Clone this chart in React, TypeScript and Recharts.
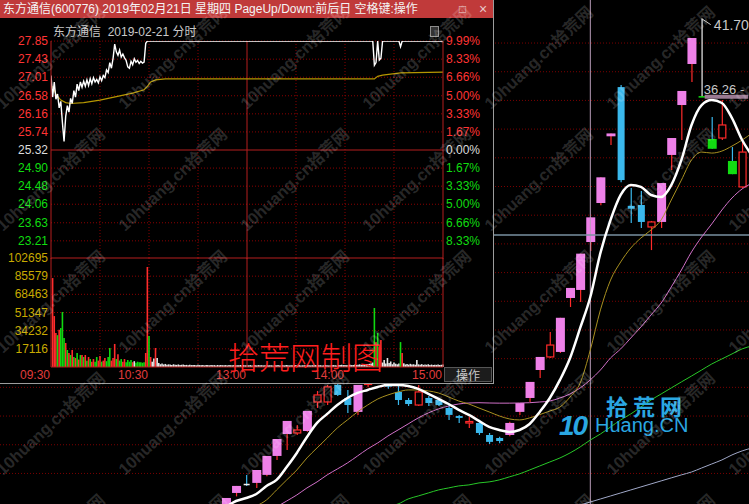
import React from "react";
import {
  Bar,
  CartesianGrid,
  Cell,
  ComposedChart,
  Line,
  ReferenceDot,
  ReferenceLine,
  XAxis,
  YAxis,
} from "recharts";

// ---------- daily candles (index 36 = 2019-02-21) ----------
const kOpen = [
  7.6, 8.64, 9.28, 9.34, 9.9, 11.22, 12.75, 12.82, 12.96, 14.98,
  14.98, 16.17, 15.26, 14.29, 16.2, 17.2, 16.8, 15.68, 15.12, 14.77,
  15.26, 15.12, 14.56, 14.0, 13.58, 13.52, 12.68, 12.47, 12.68, 14.29,
  15.26, 17.21, 18.12, 18.47, 22.23, 22.79, 26.13, 28.85, 33.5, 36.93,
  28.65, 28.71, 27.18, 27.53, 32.2, 35.68, 38.54, 36.3, 33.31, 33.38,
  31.78, 29.97,
];
const kClose = [
  8.29, 9.13, 9.27, 10.24, 11.22, 12.4, 13.66, 13.03, 14.36, 15.47,
  16.03, 15.47, 14.77, 16.17, 17.1, 16.5, 16.05, 15.12, 14.84, 15.68,
  14.91, 14.77, 14.08, 13.87, 13.62, 12.82, 12.2, 12.26, 13.52, 14.91,
  16.38, 18.12, 18.95, 20.85, 22.93, 25.32, 27.85, 30.64, 33.7, 30.45,
  28.45, 27.53, 27.53, 30.24, 33.38, 36.66, 40.35, 36.26, 32.63, 34.29,
  30.86, 32.4,
];
const kHigh = [
  8.29, 9.13, 9.9, 10.24, 11.22, 12.4, 13.66, 13.38, 14.36, 15.75,
  16.17, 16.3, 15.82, 16.17, 17.6, 17.5, 17.0, 16.17, 15.26, 16.17,
  15.4, 15.2, 14.77, 14.08, 13.94, 13.73, 12.82, 12.55, 13.6, 14.91,
  16.38, 18.12, 19.86, 20.85, 22.93, 25.32, 27.85, 30.64, 33.7, 37.07,
  29.9, 29.69, 27.6, 30.24, 33.38, 36.66, 40.35, 41.7, 34.84, 36.03,
  32.75, 33.1,
];
const kLow = [
  7.5, 8.4, 9.13, 8.99, 9.8, 10.94, 11.64, 12.68, 12.9, 14.56,
  14.77, 15.4, 14.22, 14.08, 16.0, 16.3, 15.9, 14.77, 14.7, 14.7,
  14.7, 14.7, 13.73, 13.52, 13.17, 12.68, 12.05, 12.1, 12.6, 14.08,
  14.98, 16.66, 18.05, 18.4, 21.6, 21.95, 25.51, 28.7, 32.9, 30.3,
  27.45, 27.11, 25.57, 27.11, 31.15, 33.24, 37.28, 36.26, 32.63, 33.24,
  30.86, 29.9,
];
const kMark = [
  "limit", "limit", "doji", "limit", "limit", "limit", "limit", "up", "limit", "up",
  "up", "down", "down", "limit", "up", "down", "down", "down", "down", "up",
  "down", "down", "down", "down", "up", "down", "down", "down", "limit", "limit",
  "limit", "limit", "up", "limit", "limit", "limit", "limit", "limit", "limit", "down",
  "down", "down", "up", "limit", "limit", "limit", "limit", "flat", "drop", "up",
  "drop", "up",
];

const ma5 = [
  7.67, 8.08, 8.29, 8.57, 9.13, 9.55, 10.45, 11.43, 12.54, 13.52,
  14.15, 14.77, 15.26, 15.61, 15.82, 16.03, 16.17, 16.17, 16.1, 15.89,
  15.54, 15.19, 14.84, 14.43, 14.08, 13.66, 13.24, 13.03, 12.89, 13.03,
  13.45, 14.29, 15.26, 16.52, 18.05, 20.14, 22.3, 25.37, 27.67, 29.41,
  30.1, 29.97, 29.41, 29.27, 30.1, 31.85, 34.29, 35.68, 36.03, 35.82,
  34.77, 33.24, 32.13,
];
const ma10 = [
  null, null, null, 7.74, 8.15, 8.85, 9.55, 10.24, 11.08, 11.78,
  12.47, 13.17, 13.73, 14.29, 14.77, 15.19, 15.47, 15.68, 15.82, 15.82,
  15.75, 15.61, 15.33, 15.05, 14.84, 14.56, 14.29, 14.01, 13.8, 13.73,
  13.87, 14.1, 14.35, 14.63, 15.33, 16.31, 18.61, 21.4, 23.48, 24.74,
  25.71, 26.41, 26.97, 27.67, 29.06, 30.45, 31.85, 32.4, 32.33, 32.47,
  32.82, 33.24, 33.73,
];
const ma20 = [
  null, null, null, null, null, 7.67, 8.08, 8.5, 8.99, 9.41,
  9.9, 10.31, 10.73, 11.22, 11.71, 12.13, 12.61, 13.03, 13.45, 13.87,
  14.22, 14.5, 14.7, 14.84, 14.91, 14.93, 14.91, 14.9, 14.9, 14.91,
  14.93, 14.98, 15.05, 15.26, 15.54, 15.96, 16.52, 17.21, 18.05, 18.68,
  19.44, 20.21, 21.05, 21.88, 23.0, 24.18, 25.44, 26.48, 27.39, 28.36,
  29.2, 29.83, 30.24,
];
const ma60 = [
  null, null, null, null, null, null, null, null, null, null,
  null, null, null, null, null, null, 7.73, 7.87, 8.22, 8.43,
  8.64, 8.85, 8.99, 9.13, 9.2, 9.34, 9.41, 9.55, 9.76, 9.97,
  10.24, 10.52, 10.8, 11.08, 11.43, 11.85, 12.33, 12.75, 13.24, 13.73,
  14.15, 14.63, 15.12, 15.54, 15.96, 16.38, 16.79, 17.21, 17.63, 17.98,
  18.33, 18.68, 18.89,
];
const ma120 = [
  null, null, null, null, null, null, null, null, null, null,
  null, null, null, null, null, null, null, null, null, null,
  null, null, null, null, null, null, null, null, null, null,
  null, null, null, null, null, 7.8, 8.01, 8.22, 8.43, 8.64,
  8.85, 9.06, 9.27, 9.48, 9.69, 9.9, 10.1, 10.38, 10.66, 10.94,
  11.29, 11.57, 11.78,
];
const kGridPrices = [8, 10, 12, 14, 16, 18, 20, 22, 24, 26, 28, 30, 32, 34, 36, 38, 40];
const crossIndex = 36;
const crossPrice = 26.62;
const highMark = 41.7;
const lowMark = 36.26;

// ---------- intraday 2019-02-21 ----------
const basePrice = 25.32;
const priceTicks = [27.85, 27.43, 27.01, 26.58, 26.16, 25.74, 25.32, 24.9, 24.48, 24.06, 23.63, 23.21];
const pctLabels = ["9.99%", "8.33%", "6.66%", "5.00%", "3.33%", "1.67%", "0.00%", "1.67%", "3.33%", "5.00%", "6.66%", "8.33%"];
const volTicks = [102695, 85579, 68463, 51347, 34232, 17116];
const timeTicks = [0, 60, 120, 180, 240];
const timeLabels = ["09:30", "10:30", "13:00", "14:00", "15:00"];
const gridMinutes = [30, 60, 90, 150, 180, 210];

const priceMinute = [
  0, 1, 2, 3, 4, 5, 6, 7, 8, 9, 10, 11, 12, 13, 14, 15, 16, 17, 18, 19,
  20, 21, 22, 23, 24, 25, 26, 27, 28, 29, 30, 31, 32, 33, 34, 35, 36, 37, 38, 39,
  40, 41, 42, 43, 44, 45, 46, 47, 48, 49, 50, 51, 52, 53, 54, 55, 56, 57, 58, 59,
  197, 198, 199, 200, 201, 202, 203, 213, 214, 215, 240,
];
const priceValue = [
  27.05, 26.55, 26.9, 26.5, 26.62, 26.3, 26.45, 25.95, 25.52, 26.1,
  26.35, 26.2, 26.52, 26.4, 26.7, 26.55, 26.85, 26.7, 26.9, 26.78,
  26.92, 26.8, 26.95, 26.82, 26.98, 26.86, 27.0, 26.9, 26.96, 26.88,
  27.02, 26.93, 27.05, 27.0, 27.18, 27.12, 27.35, 27.22, 27.45, 27.78,
  27.6, 27.52, 27.64, 27.48, 27.55, 27.46, 27.4, 27.25, 27.22, 27.38,
  27.3, 27.44, 27.36, 27.4, 27.33, 27.38, 27.34, 27.36, 27.8, 27.85,
  27.85, 27.29, 27.35, 27.85, 27.41, 27.45, 27.85, 27.85, 27.72, 27.85, 27.85,
];
const avgMinute = [1, 3, 6, 9, 12, 20, 30, 40, 50, 57, 59, 61, 64, 70, 198, 200, 203, 214, 240];
const avgValue = [26.8, 26.62, 26.48, 26.42, 26.4, 26.42, 26.48, 26.56, 26.64, 26.72, 26.8, 26.9, 26.95, 26.97, 26.97, 27.03, 27.06, 27.11, 27.13];

const volumes = [
  0,
  83800, 48000, 32000, 30000, 35000, 36700, 51800, 27300, 22600, 16000,
  13200, 11300, 16000, 9400, 8500, 13200, 7000, 11300, 11300, 9400,
  11300, 6000, 9400, 7500, 5000, 7500, 5000, 9400, 6000, 10300,
  5000, 6000, 8500, 5500, 9400, 17900, 6000, 8500, 21700, 7500,
  12000, 6000, 7500, 5000, 7500, 4500, 6500, 5000, 6500, 4500,
  5500, 4000, 5000, 4500, 4500, 4000, 4500, 13200, 94200, 29200,
  9400, 5000, 8000, 17900, 8500,
  3800, 2600, 3200, 2400, 2900, 2100, 2500, 2300, 1900, 2600, 2200, 2000, 2400, 1800, 2100, 2300, 1900, 2000, 1700, 2200,
  1800, 2000, 1900, 1600, 2100, 1800, 1700, 2000, 1500, 1900, 1800, 1600, 2000, 1700, 1800, 1500, 1900, 1600, 1800, 1700,
  1600, 1800, 1500, 1900, 1700, 1600, 1800, 1500, 1700, 1600, 1900, 1500, 1700, 1600,
  1700, 1600, 1800, 1500, 1700, 1600, 1500, 1800, 1600, 1700, 1500, 1600, 1800, 1500, 1700, 1600, 1500, 1700, 1600, 1800,
  1500, 1600, 1700, 1500, 1800, 1600, 1500, 1700, 1600, 1500, 1800, 1600, 1700, 1500, 1600, 1700, 1500, 1800, 1600, 1500,
  1700, 1600, 1800, 1500, 1600, 1700, 1500, 1600, 1800, 1700, 1500, 1600, 1700, 1800, 1600, 1500, 1700, 1900, 2100, 1800,
  2000, 1700, 1900, 2200, 1800, 2000, 2300, 1900, 2100, 2500, 2000, 2400, 2200, 2800, 2500, 3000, 3400, 4200,
  55600, 23500, 32000, 18800, 25400, 4200, 6500, 3200, 8500, 3800,
  5200, 2600, 4300, 3100, 2500, 3200, 23500, 13200, 3500, 2400,
  2800, 2200, 3000, 2300, 2600, 2100, 6600, 2500, 2200, 2700,
  2000, 2400, 2100, 2600, 2000, 2300, 1900, 2200, 2000, 2400,
  1900, 2100, 2300,
];
// r = up tick, g = down tick, w = unchanged
const volSide = (
  "w " +
  "r r r g r g g g r g " +
  "r g r g r g r g r g " +
  "r g r g r r g g r r " +
  "g r r g g g r r r g " +
  "r g g r r g g g g r " +
  "w g g g g g g r r g " +
  "r w w r w " +
  "w ".repeat(132) +
  "g r g r r w w w w w " +
  "w w w w w w g r w w " +
  "w w w w w w w w w w " +
  "w w w w w w w w w w " +
  "w w w"
).trim().split(" ");

// ---------- tables ----------
const kData = ma5.map((v, i) => ({
  i,
  o: kOpen[i] ?? null,
  c: kClose[i] ?? null,
  h: kHigh[i] ?? null,
  l: kLow[i] ?? null,
  mark: kMark[i] ?? null,
  range: kLow[i] != null ? [kLow[i], kHigh[i]] : null,
  ma5: v,
  ma10: ma10[i],
  ma20: ma20[i],
  ma60: ma60[i],
  ma120: ma120[i],
}));

const minuteData = volumes.map((v, m) => {
  const pi = priceMinute.indexOf(m);
  const ai = avgMinute.indexOf(m);
  return {
    m,
    v,
    s: volSide[m],
    p: pi >= 0 ? priceValue[pi] : null,
    a: ai >= 0 ? avgValue[ai] : null,
  };
});

const FRAME = "#b41e1e";
const GRID = "#8a0000";
const FONT = '"Liberation Sans", Arial, "Noto Sans CJK SC", sans-serif';
const CJK = '"Noto Sans CJK SC", "Liberation Sans", sans-serif';

const candleStyle: Record<string, { fill: string; wick: string; w: number; stroke?: string }> = {
  limit: { fill: "#ee80e8", wick: "#ff2a2a", w: 9 },
  up: { fill: "#000000", stroke: "#ff2a2a", wick: "#ff2a2a", w: 7 },
  down: { fill: "#3ab8ec", wick: "#3ab8ec", w: 7 },
  drop: { fill: "#12dc12", wick: "#3ab8ec", w: 9 },
  doji: { fill: "#f0f0f0", wick: "#3ab8ec", w: 6 },
  flat: { fill: "#12dc12", wick: "#f0f0f0", w: 7 },
};

const sideColor: Record<string, string> = { r: "#ff2c2c", g: "#10d810", w: "#e6e6e6" };

function Candle(props: any) {
  const { x, y, width, height, payload } = props;
  if (!payload || payload.o == null) return null;
  const { o, c, h, l, mark } = payload;
  const s = candleStyle[mark];
  const top = Math.min(y, y + height);
  const k = h > l ? Math.abs(height) / (h - l) : 0;
  const py = (v: number) => top + (h - v) * k;
  const cx = x + width / 2;
  const bTop = py(Math.max(o, c));
  const bH = Math.max(py(Math.min(o, c)) - bTop, 1.5);
  return (
    <g>
      <line x1={cx} x2={cx} y1={py(h)} y2={py(l)} stroke={s.wick} strokeWidth={1.2} />
      <rect
        x={cx - s.w / 2}
        y={bTop}
        width={s.w}
        height={bH}
        fill={s.fill}
        stroke={s.stroke ?? "none"}
        strokeWidth={1.2}
      />
    </g>
  );
}

function priceColor(i: number) {
  if (i < 6) return "#ff3434";
  if (i === 6) return "#dcdcdc";
  return "#10dc10";
}

function DailyChart() {
  return (
    <ComposedChart width={749} height={504} data={kData} margin={{ top: 0, right: 0, bottom: 0, left: 0 }}>
      <XAxis type="number" dataKey="i" domain={[-22.33, 51.68]} hide allowDataOverflow />
      <YAxis domain={[7.87, 43]} ticks={kGridPrices} hide allowDataOverflow />
      <CartesianGrid horizontalValues={kGridPrices} vertical={false} stroke="#7a0000" strokeDasharray="1 2" />
      <ReferenceLine x={crossIndex} stroke="#b89cb8" />
      <ReferenceLine y={crossPrice} stroke="#7890a0" strokeWidth={1.5} />
      <Bar dataKey="range" barSize={9} isAnimationActive={false} shape={(p: any) => <Candle {...p} />} />
      <Line dataKey="ma120" stroke="#a0a8c8" strokeWidth={1} dot={false} type="monotone" isAnimationActive={false} />
      <Line dataKey="ma60" stroke="#28c828" strokeWidth={1} dot={false} type="monotone" isAnimationActive={false} />
      <Line dataKey="ma20" stroke="#d070c8" strokeWidth={1} dot={false} type="monotone" isAnimationActive={false} />
      <Line dataKey="ma10" stroke="#a89020" strokeWidth={1} dot={false} type="monotone" isAnimationActive={false} />
      <Line dataKey="ma5" stroke="#ffffff" strokeWidth={2.5} dot={false} type="monotone" isAnimationActive={false} />
      <ReferenceLine
        segment={[{ x: 47.3, y: lowMark }, { x: 51.6, y: lowMark }]}
        stroke="#9a7a92"
        strokeWidth={4}
        ifOverflow="visible"
      />
      <ReferenceLine
        segment={[{ x: 47, y: highMark }, { x: 47.9, y: 41.28 }]}
        stroke="#c8c8c8"
        ifOverflow="visible"
      />
      <ReferenceDot
        x={47.9}
        y={41.28}
        r={0.1}
        fill="none"
        stroke="none"
        ifOverflow="visible"
        label={{ value: highMark.toFixed(2), position: "right", offset: 3, fill: "#c8c8c8", fontSize: 14 }}
      />
      <ReferenceDot
        x={47.1}
        y={36.75}
        r={0.1}
        fill="none"
        stroke="none"
        ifOverflow="visible"
        label={{ value: lowMark.toFixed(2) + " -", position: "right", offset: 1, fill: "#c8c8c8", fontSize: 13 }}
      />
    </ComposedChart>
  );
}

function PriceChart() {
  return (
    <ComposedChart width={493} height={262} data={minuteData} margin={{ top: 41, right: 0, bottom: 3, left: 0 }}>
      <XAxis type="number" dataKey="m" domain={[0, 240]} ticks={gridMinutes} hide allowDataOverflow />
      <YAxis
        domain={[22.788, 27.852]}
        ticks={priceTicks}
        interval={0}
        width={51}
        tickSize={0}
        tickMargin={3}
        axisLine={{ stroke: FRAME }}
        tickLine={false}
        allowDataOverflow
        tick={(t: any) => (
          <text x={t.x} y={t.y} textAnchor="end" dominantBaseline="central" fontSize={12} fontFamily={FONT}
            fill={priceColor(priceTicks.indexOf(t.payload.value))}>
            {Number(t.payload.value).toFixed(2)}
          </text>
        )}
      />
      <YAxis
        yAxisId="q"
        orientation="right"
        domain={[22.788, 27.852]}
        ticks={priceTicks}
        interval={0}
        width={50}
        tickSize={0}
        tickMargin={3}
        axisLine={{ stroke: FRAME }}
        tickLine={false}
        allowDataOverflow
        tick={(t: any) => {
          const idx = priceTicks.indexOf(t.payload.value);
          return (
            <text x={t.x} y={t.y} textAnchor="start" dominantBaseline="central" fontSize={12} fontFamily={FONT}
              fill={priceColor(idx)}>
              {pctLabels[idx]}
            </text>
          );
        }}
      />
      <CartesianGrid
        horizontalValues={priceTicks.filter((v) => v !== basePrice)}
        verticalValues={gridMinutes}
        stroke={GRID}
        strokeDasharray="1 2"
      />
      <ReferenceLine y={basePrice} stroke={FRAME} />
      <ReferenceLine x={120} stroke={FRAME} />
      <Line dataKey="a" stroke="#b49600" strokeWidth={1.2} dot={false} connectNulls isAnimationActive={false} />
      <Line dataKey="p" stroke="#ffffff" strokeWidth={1.4} dot={false} connectNulls isAnimationActive={false} />
    </ComposedChart>
  );
}

function VolumeChart() {
  const volTick = (anchor: "start" | "end") => (t: any) => (
    <text x={t.x} y={t.y} textAnchor={anchor} dominantBaseline="central" fontSize={12} fontFamily={FONT} fill="#c8aa00">
      {t.payload.value}
    </text>
  );
  return (
    <ComposedChart width={493} height={133} data={minuteData} margin={{ top: 8, right: 0, bottom: 0, left: 0 }}>
      <XAxis
        type="number"
        dataKey="m"
        domain={[0, 240]}
        ticks={timeTicks}
        interval={0}
        height={16}
        tickSize={0}
        tickMargin={0}
        axisLine={{ stroke: FRAME }}
        tickLine={false}
        tick={(t: any) => (
          <text x={t.x - 1} y={t.y + 12} textAnchor="end" fontSize={12} fontFamily={FONT} fill="#e03c3c">
            {timeLabels[timeTicks.indexOf(t.payload.value)]}
          </text>
        )}
      />
      <YAxis domain={[0, 102695]} ticks={volTicks} interval={0} width={51} tickSize={0} tickMargin={3}
        axisLine={{ stroke: FRAME }} tickLine={false} tick={volTick("end")} />
      <YAxis yAxisId="w" orientation="right" domain={[0, 102695]} ticks={volTicks} interval={0} width={50} tickSize={0}
        tickMargin={3} axisLine={{ stroke: FRAME }} tickLine={false} tick={volTick("start")} />
      <CartesianGrid
        horizontalValues={volTicks.slice(1)}
        verticalValues={gridMinutes}
        stroke={GRID}
        strokeDasharray="1 2"
      />
      <ReferenceLine y={volTicks[0]} stroke={FRAME} />
      <ReferenceLine x={120} stroke={FRAME} />
      <Bar dataKey="v" barSize={1.6} isAnimationActive={false}>
        {minuteData.map((d) => (
          <Cell key={d.m} fill={sideColor[d.s]} />
        ))}
      </Bar>
    </ComposedChart>
  );
}

function Watermarks() {
  const items: React.ReactNode[] = [];
  for (let r = 0; r < 5; r++) {
    for (let c = -1; c < 7; c++) {
      const x = 3 + c * 122;
      const y = 110 + r * 122;
      items.push(
        <text key={`${r}-${c}`} x={x} y={y} transform={`rotate(-43 ${x} ${y})`} fontSize={16.5} fontWeight={700}
          fontFamily={FONT} fill="#ffffff" fillOpacity={0.17}>
          10huang.cn拾荒网
        </text>
      );
    }
  }
  return (
    <svg width={749} height={504} style={{ position: "absolute", left: 0, top: 0, pointerEvents: "none" }}>
      {items}
    </svg>
  );
}

export default function App() {
  return (
    <div style={{ position: "fixed", left: 0, top: 0, width: 749, height: 504, background: "#000", overflow: "hidden", fontFamily: FONT }}>
      <div style={{ position: "absolute", left: 0, top: 0 }}>
        <DailyChart />
      </div>

      <div style={{ position: "absolute", left: 0, top: 0, width: 493, height: 383, background: "#000",
        borderRight: "1px solid #9c9c9c", borderBottom: "1px solid #9c9c9c" }}>
        <div style={{ position: "absolute", left: 0, top: 0 }}>
          <PriceChart />
        </div>
        <div style={{ position: "absolute", left: 0, top: 250 }}>
          <VolumeChart />
        </div>
        <div style={{ position: "absolute", left: 0, top: 0, width: 493, height: 18, background: "#c03a3a",
          color: "#f4f4f4", fontSize: 12, lineHeight: "18px", fontFamily: FONT, whiteSpace: "pre" }}>
          <span style={{ position: "absolute", left: 3 }}>东方通信(600776) 2019年02月21日 星期四 PageUp/Down:前后日 空格键:操作</span>
          <span style={{ position: "absolute", left: 459, color: "#e8c8c8", fontSize: 12 }}>□</span>
          <span style={{ position: "absolute", left: 479, color: "#e8c8c8", fontSize: 14 }}>×</span>
        </div>
        <div style={{ position: "absolute", left: 53, top: 22, fontSize: 12, color: "#c8c8c8", fontFamily: FONT, whiteSpace: "pre" }}>
          东方通信  2019-02-21 分时
        </div>
        <div style={{ position: "absolute", left: 430, top: 26, width: 7, height: 9, border: "1px solid #8c8c8c", background: "#333" }} />
        <div style={{ position: "absolute", left: 444, top: 367, width: 48, height: 15, background: "#1c1c1c",
          border: "1px solid #555", boxSizing: "border-box", color: "#c8c8c8", fontSize: 12, lineHeight: "13px",
          textAlign: "center", fontFamily: CJK }}>
          操作
        </div>
      </div>

      <div style={{ position: "absolute", left: 228, top: 333, fontSize: 31, color: "#ff1e1e", fontFamily: CJK, fontWeight: 300, whiteSpace: "pre" }}>
        拾荒网制图
      </div>

      <div style={{ position: "absolute", left: 606, top: 389, fontSize: 22, fontWeight: 700, letterSpacing: 5, color: "#2aa7e2", fontFamily: CJK }}>
        拾荒网
      </div>
      <div style={{ position: "absolute", left: 559, top: 410, fontSize: 28, fontWeight: 900, fontStyle: "italic", color: "#2aa7e2", letterSpacing: -2 }}>
        10
      </div>
      <div style={{ position: "absolute", left: 595, top: 414, fontSize: 20, color: "#2aa7e2" }}>
        Huang.CN
      </div>

      <Watermarks />
    </div>
  );
}
